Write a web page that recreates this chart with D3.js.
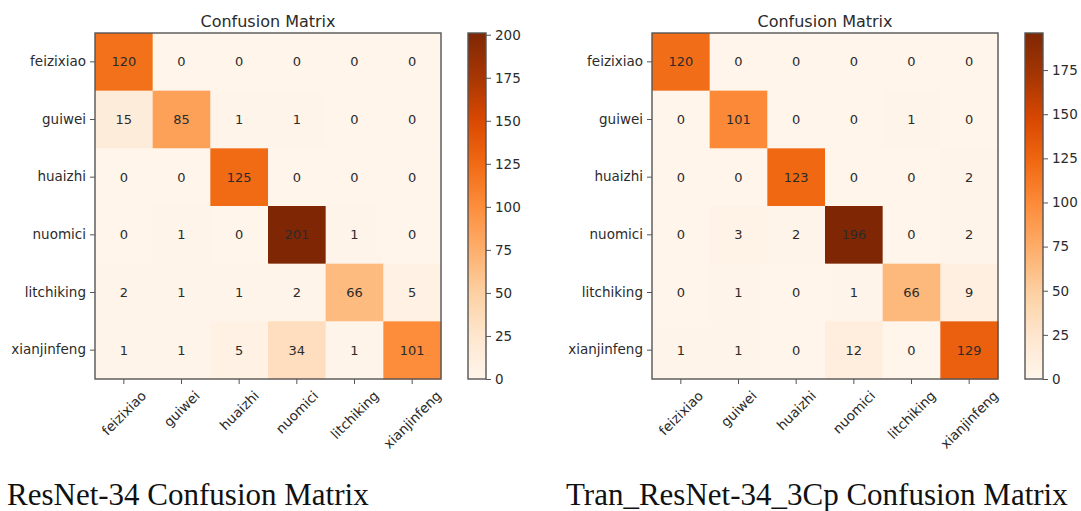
<!DOCTYPE html>
<html>
<head>
<meta charset="utf-8">
<script src="https://cdn.jsdelivr.net/npm/d3@7"></script>
<style>
  body { margin: 0; background: #fff; }
  svg text { font-family: "DejaVu Sans", sans-serif; }
  svg text.caption { font-family: "Liberation Serif", "Times New Roman", serif; }
</style>
</head>
<body>
<svg id="chart" width="1081" height="511"></svg>
<script>
const classes = ['feizixiao', 'guiwei', 'huaizhi', 'nuomici', 'litchiking', 'xianjinfeng']

// rows = true class, columns = predicted class
const resnetMatrix = [
  [120, 0, 0, 0, 0, 0],
  [15, 85, 1, 1, 0, 0],
  [0, 0, 125, 0, 0, 0],
  [0, 1, 0, 201, 1, 0],
  [2, 1, 1, 2, 66, 5],
  [1, 1, 5, 34, 1, 101]
]
const tranMatrix = [
  [120, 0, 0, 0, 0, 0],
  [0, 101, 0, 0, 1, 0],
  [0, 0, 123, 0, 0, 2],
  [0, 3, 2, 196, 0, 2],
  [0, 1, 0, 1, 66, 9],
  [1, 1, 0, 12, 0, 129]
]
const resnetTicks = [0, 25, 50, 75, 100, 125, 150, 175, 200]
const tranTicks = [0, 25, 50, 75, 100, 125, 150, 175]

const titles = ['Confusion Matrix', 'Confusion Matrix']
const captions = ['ResNet-34 Confusion Matrix', 'Tran_ResNet-34_3Cp Confusion Matrix']

// matplotlib "Oranges" is a straight piecewise blend of these
const oranges = ['#fff5eb', '#fee6ce', '#fdd0a2', '#fdae6b', '#fd8d3c', '#f16913', '#d94801', '#a63603', '#7f2704']
const orangeRamp = d3.piecewise(d3.interpolateRgb, oranges)

const svg = d3.select('#chart')
const frame = '#555'
const ink = '#2b2b2b'

drawMatrix(resnetMatrix, resnetTicks, { x0: 95, x1: 441, cbX: 468, id: 'a', title: titles[0], caption: captions[0], capX: 7 })
drawMatrix(tranMatrix, tranTicks, { x0: 652, x1: 998, cbX: 1025, id: 'b', title: titles[1], caption: captions[1], capX: 566 })

function drawMatrix(matrix, ticks, o) {
  const y0 = 33, y1 = 379
  const vmax = d3.max(matrix.flat())
  const color = d3.scaleSequential(orangeRamp).domain([0, vmax])

  const x = d3.scaleBand().domain(classes).range([o.x0, o.x1])
  const y = d3.scaleBand().domain(classes).range([y0, y1])

  const cells = []
  matrix.forEach((row, i) => row.forEach((v, j) => cells.push({ r: classes[i], c: classes[j], v })))

  const g = svg.append('g')

  g.selectAll('rect.cell')
    .data(cells)
    .enter()
    .append('rect')
    .attr('class', 'cell')
    .attr('x', d => x(d.c))
    .attr('y', d => y(d.r))
    .attr('width', x.bandwidth() + 0.5)
    .attr('height', y.bandwidth() + 0.5)
    .attr('fill', d => color(d.v))

  g.selectAll('text.val')
    .data(cells)
    .enter()
    .append('text')
    .attr('class', 'val')
    .attr('x', d => x(d.c) + x.bandwidth() / 2)
    .attr('y', d => y(d.r) + y.bandwidth() / 2)
    .attr('text-anchor', 'middle')
    .attr('dominant-baseline', 'central')
    .attr('font-size', 13)
    .attr('fill', ink)
    .text(d => d.v)

  g.append('rect')
    .attr('x', o.x0).attr('y', y0)
    .attr('width', o.x1 - o.x0).attr('height', y1 - y0)
    .attr('fill', 'none').attr('stroke', frame).attr('stroke-width', 1.4)

  // y axis
  const yAxis = g.append('g')
    .attr('transform', `translate(${o.x0},0)`)
    .call(d3.axisLeft(y).tickSize(5).tickPadding(4))
  yAxis.select('.domain').remove()
  yAxis.selectAll('line').attr('stroke', frame)
  yAxis.selectAll('text').attr('font-size', 13.5).attr('fill', ink).attr('font-family', 'DejaVu Sans')

  // x axis, labels rotated 45 and centred on the tick like matplotlib
  const xAxis = g.append('g')
    .attr('transform', `translate(0,${y1})`)
    .call(d3.axisBottom(x).tickSize(5))
  xAxis.select('.domain').remove()
  xAxis.selectAll('line').attr('stroke', frame)
  xAxis.selectAll('text').remove()
  classes.forEach(name => {
    const t = g.append('text')
      .attr('font-size', 13.5)
      .attr('fill', ink)
      .attr('text-anchor', 'middle')
      .attr('dominant-baseline', 'central')
      .text(name)
    const len = t.node().getComputedTextLength()
    const h = (len + 13) * Math.SQRT1_2
    const cx = x(name) + x.bandwidth() / 2
    const cy = y1 + 5 + 4.5 + h / 2
    t.attr('transform', `translate(${cx},${cy}) rotate(-45)`)
  })

  // title
  g.append('text')
    .attr('x', (o.x0 + o.x1) / 2)
    .attr('y', 27)
    .attr('text-anchor', 'middle')
    .attr('font-size', 16)
    .attr('fill', ink)
    .text(o.title)

  // colorbar
  const cbW = 18
  const cbScale = d3.scaleLinear().domain([0, vmax]).range([y1, y0])
  const grad = svg.append('defs').append('linearGradient')
    .attr('id', 'grad-' + o.id)
    .attr('x1', 0).attr('y1', 1).attr('x2', 0).attr('y2', 0)
  d3.range(0, 1.0001, 0.125).forEach(t => {
    grad.append('stop').attr('offset', t).attr('stop-color', color(t * vmax))
  })
  g.append('rect')
    .attr('x', o.cbX).attr('y', y0)
    .attr('width', cbW).attr('height', y1 - y0)
    .attr('fill', `url(#grad-${o.id})`)
    .attr('stroke', frame).attr('stroke-width', 1.4)

  const cbAxis = g.append('g')
    .attr('transform', `translate(${o.cbX + cbW},0)`)
    .call(d3.axisRight(cbScale).tickValues(ticks).tickSize(5).tickPadding(4))
  cbAxis.select('.domain').remove()
  cbAxis.selectAll('line').attr('stroke', frame)
  cbAxis.selectAll('text').attr('font-size', 13.5).attr('fill', ink).attr('font-family', 'DejaVu Sans')

  // caption under the figure
  svg.append('text')
    .attr('class', 'caption')
    .attr('x', o.capX)
    .attr('y', 505)
    .attr('font-size', 31)
    .attr('fill', '#111')
    .text(o.caption)
}
</script>
</body>
</html>
